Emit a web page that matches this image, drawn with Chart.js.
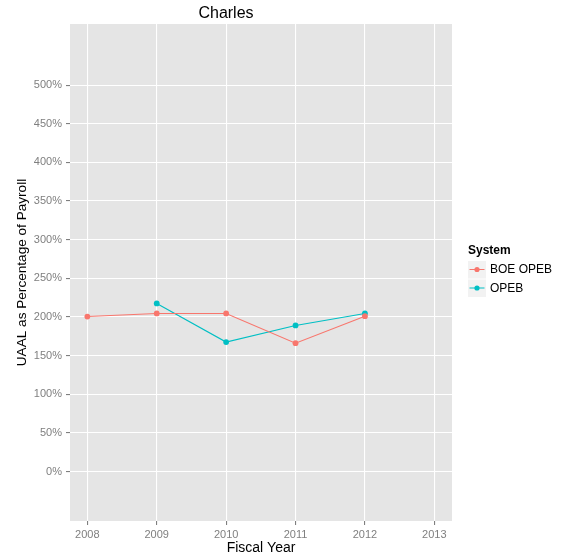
<!DOCTYPE html>
<html>
<head>
<meta charset="utf-8">
<script src="https://cdn.jsdelivr.net/npm/chart.js@4/dist/chart.umd.min.js"></script>
<style>
html,body{margin:0;padding:0;background:#fff;}
#wrap{width:562px;height:555px;position:relative;}
</style>
</head>
<body>
<div id="wrap"><canvas id="c" width="562" height="555"></canvas></div>
<script>
const years = [2008, 2009, 2010, 2011, 2012];
const boeOpeb = [200.5, 204.5, 204.5, 166, 201];
const opeb = [null, 217.5, 167.5, 189, 204.5];
const yTicks = [0, 50, 100, 150, 200, 250, 300, 350, 400, 450, 500];
const xTicks = [2008, 2009, 2010, 2011, 2012, 2013];
const seriesNames = ['BOE OPEB', 'OPEB'];
const seriesColors = ['#F8766D', '#00BFC4'];

const FONT = 'Liberation Sans, Arial, Helvetica, sans-serif';

const bgPlugin = {
  id: 'panelBg',
  beforeDraw(chart) {
    const {ctx, chartArea: a} = chart;
    ctx.save();
    ctx.fillStyle = '#E5E5E5';
    ctx.fillRect(a.left, a.top, a.right - a.left, a.bottom - a.top);
    ctx.restore();
  }
};

const legendPlugin = {
  id: 'ggLegend',
  afterDraw(chart) {
    const {ctx} = chart;
    ctx.save();
    ctx.font = 'bold 12px ' + FONT;
    ctx.fillStyle = '#000';
    ctx.textAlign = 'left';
    ctx.textBaseline = 'middle';
    ctx.fillText('System', 468, 251);
    chart.data.datasets.forEach((ds, i) => {
      const y0 = 261 + i * 18.5;
      ctx.fillStyle = '#F2F2F2';
      ctx.fillRect(468, y0, 18, 17.5);
      const cy = y0 + 8.5;
      ctx.strokeStyle = ds.borderColor;
      ctx.lineWidth = 1;
      ctx.beginPath();
      ctx.moveTo(469.5, cy);
      ctx.lineTo(484.5, cy);
      ctx.stroke();
      ctx.fillStyle = ds.borderColor;
      ctx.beginPath();
      ctx.arc(477, cy, 2.6, 0, Math.PI * 2);
      ctx.fill();
      ctx.fillStyle = '#000';
      ctx.font = '12px ' + FONT;
      ctx.fillText(ds.label, 490, cy + 0.5);
    });
    ctx.restore();
  }
};

new Chart(document.getElementById('c'), {
  type: 'line',
  data: {
    datasets: [
      {
        label: seriesNames[0],
        data: years.map((x, i) => ({x: x, y: boeOpeb[i]})).filter(p => p.y !== null),
        borderColor: seriesColors[0],
        backgroundColor: seriesColors[0],
        borderWidth: 1.1,
        pointRadius: 2.9,
        pointBorderWidth: 0,
        tension: 0
      },
      {
        label: seriesNames[1],
        data: years.map((x, i) => ({x: x, y: opeb[i]})).filter(p => p.y !== null),
        borderColor: seriesColors[1],
        backgroundColor: seriesColors[1],
        borderWidth: 1.1,
        pointRadius: 2.9,
        pointBorderWidth: 0,
        tension: 0
      }
    ]
  },
  options: {
    responsive: false,
    animation: false,
    devicePixelRatio: 1,
    layout: {padding: {left: 0, right: 110, top: 0, bottom: 0}},
    plugins: {
      legend: {display: false},
      tooltip: {enabled: false},
      title: {
        display: true,
        text: 'Charles',
        color: '#000',
        font: {family: FONT, size: 16, weight: 'normal', lineHeight: 1},
        padding: {top: 6, bottom: 2}
      }
    },
    scales: {
      x: {
        type: 'linear',
        min: 2007.75,
        max: 2013.255,
        afterBuildTicks(s) { s.ticks = xTicks.map(v => ({value: v})); },
        afterFit(s) { s.height = 34; },
        ticks: {
          color: '#7F7F7F',
          font: {family: FONT, size: 11},
          padding: 3,
          maxRotation: 0,
          callback: v => String(v)
        },
        grid: {color: '#FFFFFF', lineWidth: 1.1, tickColor: '#7F7F7F', tickLength: 4, drawOnChartArea: true},
        border: {display: false},
        title: {
          display: true,
          text: 'Fiscal Year',
          color: '#000',
          font: {family: FONT, size: 14},
          padding: {top: 0, bottom: -2}
        }
      },
      y: {
        type: 'linear',
        min: -64,
        max: 579,
        afterBuildTicks(s) { s.ticks = yTicks.map(v => ({value: v})); },
        afterFit(s) { s.width = 70; },
        ticks: {
          color: '#7F7F7F',
          font: {family: FONT, size: 11},
          padding: 4,
          callback: v => v + '%'
        },
        grid: {color: '#FFFFFF', lineWidth: 1.1, tickColor: '#7F7F7F', tickLength: 4},
        border: {display: false},
        title: {
          display: true,
          text: 'UAAL as Percentage of Payroll',
          color: '#000',
          font: {family: FONT, size: 13.6},
          padding: {top: 14, bottom: 0}
        }
      }
    }
  },
  plugins: [bgPlugin, legendPlugin]
});
</script>
</body>
</html>
